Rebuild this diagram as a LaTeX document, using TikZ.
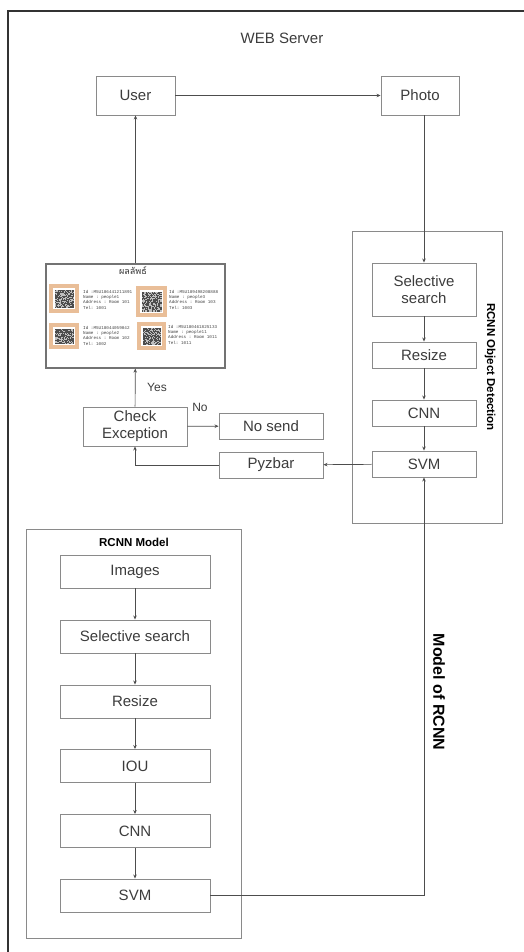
\documentclass[tikz,border=0pt]{standalone}
\usepackage{fontspec}
\setmainfont{Liberation Sans}
\setmonofont{Liberation Mono}
\newfontfamily\thaifont[Script=Thai]{Loma}
\usetikzlibrary{arrows.meta,calc}

\definecolor{boxgray}{HTML}{8A8A8A}
\definecolor{txtgray}{HTML}{3C3C3C}
\definecolor{linegray}{HTML}{4D4D4D}
\definecolor{qrorange}{HTML}{E9BE98}

\tikzset{
  procbox/.style={draw=boxgray, line width=0.9pt, text=txtgray, align=center,
    inner sep=0pt, font=\fontsize{15}{17}\selectfont},
  framebox/.style={draw=boxgray, line width=0.9pt, inner sep=0pt},
  link/.style={draw=linegray, line width=0.7pt, -{Stealth[length=4pt,width=3.5pt]}},
  sidelabel/.style={font=\bfseries\fontsize{11.5}{13}\selectfont, rotate=-90},
  qrinfo/.style={anchor=north west, inner sep=0pt, align=left,
    font=\ttfamily\fontsize{4.3}{5.3}\selectfont, text=black!75},
}

% one QR tile: x, y (top left), width, height
\newcommand\qrtile[4]{%
  \fill[qrorange] (#1,#2) rectangle ++(#3,#4);
  \fill[white] (#1+4,#2+4) rectangle (#1+#3-4,#2+#4-4);
  \pgfmathsetmacro\qrdx{(#3-11)/19}
  \pgfmathsetmacro\qrdy{(#4-11)/19}
  \fill[black!25] (#1+5.5,#2+5.5) rectangle (#1+#3-5.5,#2+#4-5.5);
  \foreach \i in {0,...,18}{
    \foreach \j in {0,...,18}{
      \pgfmathsetmacro\qrbit{rnd}
      \ifdim\qrbit pt>0.4pt
        \fill[black!70] ({#1+5.5+\i*\qrdx},{#2+5.5+\j*\qrdy}) rectangle ++(\qrdx,\qrdy);
      \fi}}
}

\begin{document}
\begin{tikzpicture}[x=1pt, y=-1pt, >=Stealth]
\useasboundingbox (0,0) rectangle (524,952);
\pgfmathsetseed{7}

% outer frame (cut off at the right and bottom)
\draw[black!80, line width=1.1pt] (524,11) -- (8,11) -- (8,952);
\node[font=\fontsize{15}{17}\selectfont, text=txtgray] (web) at (282,38) {WEB Server};

\node[procbox, minimum width=79pt, minimum height=39pt] (user) at (135.5,95.5) {User};
\node[procbox, minimum width=78pt, minimum height=39pt] (photo) at (420,95.5) {Photo};

% RCNN object detection
\node[framebox, minimum width=150pt, minimum height=292pt] (detframe) at (427,377) {};
\node[procbox, minimum width=104pt, minimum height=53pt] (ssearch) at (424,289.5) {Selective\\search};
\node[procbox, minimum width=104pt, minimum height=26pt] (resize) at (424,355) {Resize};
\node[procbox, minimum width=104pt, minimum height=26pt] (cnn) at (424,413) {CNN};
\node[procbox, minimum width=104pt, minimum height=26pt] (svm) at (424,464) {SVM};
\node[sidelabel] (detlabel) at (490,367) {RCNN Object Detection};

% result panel
\node[draw=black!55, line width=1.2pt, minimum width=179pt, minimum height=104pt, inner sep=0pt] (panel) at (135.5,316) {};
\node[font=\thaifont\fontsize{9}{11}\selectfont, text=black!80] (paneltitle) at (133,271) {ผลลัพธ์};
\qrtile{49}{284}{30}{29}
\qrtile{136}{286}{31}{31}
\qrtile{49}{323}{30}{26}
\qrtile{137}{322}{29}{28}
\node[qrinfo] (info1) at (83,290) {Id :M5U186441211891\\Name : people1\\Address : Room 101\\Tel: 1001};
\node[qrinfo] (info2) at (169,290) {Id :M5U189498208888\\Name : people3\\Address : Room 103\\Tel: 1003};
\node[qrinfo] (info3) at (83,326) {Id :M5U18044059042\\Name : people2\\Address : Room 102\\Tel: 1002};
\node[qrinfo] (info4) at (168,325) {Id :M5U180461825133\\Name : people11\\Address : Room 1011\\Tel: 1011};

\node[procbox, minimum width=104pt, minimum height=39pt] (check) at (135,426.5) {Check\\Exception};
\node[procbox, minimum width=104pt, minimum height=26pt] (nosend) at (271,426) {No send};
\node[procbox, minimum width=104pt, minimum height=26pt] (pyzbar) at (271,465) {Pyzbar};
\node[font=\fontsize{12}{14}\selectfont, text=txtgray] (yes) at (157,387) {Yes};
\node[font=\fontsize{12}{14}\selectfont, text=txtgray] (no) at (200,407) {No};

% RCNN model
\node[framebox, minimum width=215pt, minimum height=409pt] (modframe) at (133.5,733.5) {};
\node[font=\bfseries\fontsize{11.5}{13}\selectfont] (modtitle) at (134,542) {RCNN Model};
\foreach \nm/\yy/\txt in {mimg/571.5/Images, mss/636.5/Selective search, mresize/701.5/Resize,
    miou/766/IOU, mcnn/831/CNN, msvm/895.5/SVM}
  \node[procbox, minimum width=150pt, minimum height=33pt] (\nm) at (135,\yy) {\txt};
\foreach \a/\b in {mimg/mss, mss/mresize, mresize/miou, miou/mcnn, mcnn/msvm}
  \draw[link] (\a) -- (\b);
\node[font=\bfseries\fontsize{16}{18}\selectfont, rotate=-90] (modlabel) at (439,692) {Model of RCNN};

% connectors
\draw[link] (user) -- (photo);
\draw[link] (photo.south -| ssearch.north) -- (ssearch.north);
\draw[link] (ssearch) -- (resize);
\draw[link] (resize) -- (cnn);
\draw[link] (cnn) -- (svm);
\draw[link] (svm) -- (pyzbar);
\draw[link] (pyzbar.west) -| (check.south);
\draw[link] (check) -- (nosend);
\draw[link] (check) -- (panel);
\draw[link] (panel) -- (user);
\draw[link] (msvm.east) -| (svm.south);

\end{tikzpicture}
\end{document}
